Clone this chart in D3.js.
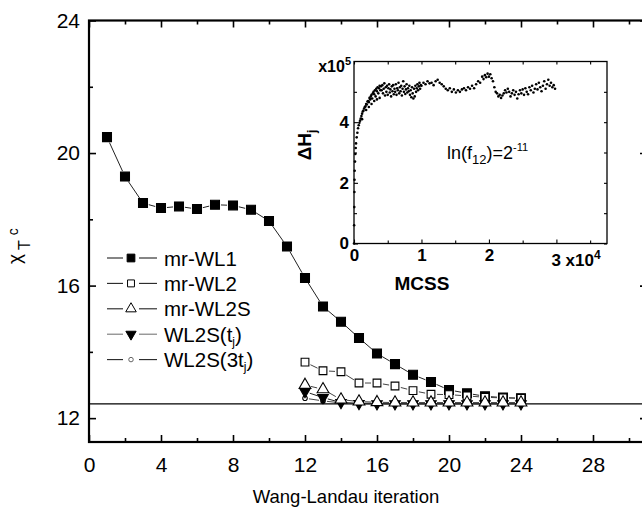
<!DOCTYPE html>
<html><head><meta charset="utf-8">
<script src="https://cdn.jsdelivr.net/npm/d3@7"></script>
<style>
body{margin:0;background:#fff}
svg text{font-family:"Liberation Sans",Arial,Helvetica,sans-serif;fill:#000}
</style>
</head><body>
<svg id="chart" width="642" height="515"></svg>
<script>
// ---- main panel data: susceptibility peak vs Wang-Landau iteration ----
const iterWL1 = [1,2,3,4,5,6,7,8,9,10,11,12,13,14,15,16,17,18,19,20,21,22,23,24];
const chiWL1  = [20.48,19.29,18.49,18.34,18.39,18.31,18.44,18.42,18.29,17.95,17.18,16.23,15.37,14.91,14.42,13.95,13.63,13.31,13.09,12.85,12.75,12.66,12.62,12.60];
const iterLate = [12,13,14,15,16,17,18,19,20,21,22,23,24];
const chiWL2   = [13.69,13.43,13.40,13.06,13.06,12.97,12.83,12.72,12.71,12.67,12.63,12.61,12.60];
const chiWL2S  = [13.00,12.87,12.56,12.50,12.48,12.47,12.47,12.47,12.47,12.47,12.47,12.47,12.47];
const chiWL2St = [12.80,12.62,12.47,12.44,12.43,12.43,12.43,12.43,12.43,12.43,12.43,12.43,12.43];
const chiWL2S3t= [12.60,12.52,12.46,12.45,12.45,12.44,12.44,12.44,12.44,12.44,12.44,12.44,12.44];
const exactChi = 12.43;

const seriesNames = ["mr-WL1","mr-WL2","mr-WL2S","WL2S(t","WL2S(3t"];

const xTicksMajor = [0,4,8,12,16,20,24,28];
const xTicksMinor = [2,6,10,14,18,22,26,30];
const yTicksMajor = [12,16,20,24];
const yTicksMinor = [14,18,22];

// ---- inset data: histogram spread vs Monte Carlo sweeps (x10^4, x10^5) ----
const mcss = [
0,0.002,0.004,0.006,0.008,0.010,0.015,0.020,0.025,0.030,0.040,0.050,0.060,0.070,0.080,0.090,0.100,0.110,0.120,0.130,0.140,0.150,0.160,0.170,0.180,0.190,0.200,0.210,0.220,0.230,0.240,0.250,0.260,0.270,0.280,0.290,0.300,0.310,0.320,0.330,0.340,0.350,0.360,0.370,0.380,0.390,0.400,
0.12,0.18,0.22,0.26,0.30,0.34,0.38,
0.41,0.42,0.43,0.44,0.45,0.46,0.47,0.48,0.49,0.50,0.51,0.52,0.53,0.54,0.55,0.56,0.57,0.58,0.59,0.60,0.61,0.62,0.63,0.64,0.65,0.66,0.67,0.68,0.69,0.70,0.71,0.72,0.73,0.74,0.75,0.76,0.77,0.78,0.79,0.80,0.81,0.82,0.83,0.84,0.85,0.86,0.87,0.88,0.89,0.90,0.91,0.92,0.93,0.94,0.95,0.96,0.97,0.98,0.99,
1.00,1.03,1.06,1.09,1.12,1.15,1.18,1.21,1.24,1.27,1.30,1.33,1.36,1.39,1.42,1.45,1.48,1.51,1.54,1.57,1.60,1.63,1.66,1.69,1.72,1.75,1.78,1.81,1.84,1.87,1.90,1.92,1.94,1.96,1.98,2.00,2.02,2.04,2.06,2.08,2.10,2.12,2.14,2.16,2.18,2.20,2.22,2.24,2.26,2.28,2.30,2.32,2.34,2.36,2.38,2.40,2.42,2.44,2.46,2.48,2.50,2.52,2.54,2.56,2.58,2.60,2.62,2.64,2.66,2.68,2.70,2.72,2.74,2.76,2.78,2.80,2.82,2.84,2.86,2.88,2.90,2.92,2.94,2.96,2.98
];
const deltaH = [
0.0,0.6,1.2,1.7,2.1,2.4,2.7,2.95,3.15,3.3,3.5,3.65,3.8,3.9,3.98,4.05,4.12,4.2,4.28,4.35,4.38,4.45,4.5,4.52,4.6,4.58,4.68,4.7,4.66,4.8,4.75,4.85,4.9,4.78,4.95,5.0,4.92,5.05,4.85,5.1,5.02,5.15,4.95,5.12,5.2,5.05,5.18,
4.1,4.4,4.5,4.6,4.7,4.75,4.8,
5.05,5.22,4.95,5.1,5.28,4.88,5.15,5.0,5.2,4.9,5.12,5.25,4.98,5.08,4.85,5.18,5.02,5.22,4.92,5.1,5.0,5.25,4.9,5.12,5.05,5.3,4.95,5.15,5.02,5.2,4.88,5.1,5.35,5.0,5.18,4.93,5.08,5.25,4.98,5.12,5.02,5.2,4.9,5.05,4.82,5.15,4.95,4.78,5.1,4.85,5.2,5.0,5.12,5.25,5.05,5.18,5.3,5.1,5.22,
5.2,5.3,5.25,5.35,5.28,5.3,5.22,5.35,5.4,5.3,5.25,5.18,5.1,5.05,5.12,5.0,5.08,4.98,5.05,5.0,5.08,5.12,5.05,5.15,5.1,5.2,5.12,5.25,5.35,5.3,5.5,5.42,5.55,5.48,5.6,5.5,5.58,5.45,5.35,5.15,5.0,4.95,4.85,4.9,4.8,4.88,4.95,5.05,4.98,5.1,5.0,4.85,4.95,5.05,4.9,5.0,4.78,4.92,5.05,4.95,5.08,4.9,5.12,5.0,4.92,5.15,5.05,5.2,4.98,5.1,5.25,5.08,5.3,5.15,5.02,5.2,5.35,5.1,5.25,5.4,5.2,5.3,5.15,5.22,5.1
];
const insetXTicks = [0,1,2,3];
const insetXMinor = [0.5,1.5,2.5,3.5];
const insetYTicks = [0,2,4];
const insetYMinor = [1,3,5];

const svg = d3.select("#chart");

// ---- main scales ----
const x = d3.scaleLinear().domain([0, 31]).range([89, 647]);
const y = d3.scaleLinear().domain([11.28, 24]).range([442, 20.5]);
const L = 89, R = 647, T = 20.5, B = 442;

// inward tick helper
function ticks(g, axisGen){ g.call(axisGen); g.select(".domain").remove(); g.selectAll("line").attr("stroke","#000").attr("stroke-width",1.6); }

const gAx = svg.append("g");
ticks(gAx.append("g").attr("transform",`translate(0,${B})`),
  d3.axisBottom(x).tickValues(xTicksMajor).tickSizeInner(-7).tickSizeOuter(0).tickPadding(15));
ticks(gAx.append("g").attr("transform",`translate(0,${B})`),
  d3.axisBottom(x).tickValues(xTicksMinor).tickSizeInner(-4).tickSizeOuter(0).tickFormat(""));
ticks(gAx.append("g").attr("transform",`translate(0,${T})`),
  d3.axisTop(x).tickValues(xTicksMajor).tickSizeInner(-7).tickSizeOuter(0).tickFormat(""));
ticks(gAx.append("g").attr("transform",`translate(0,${T})`),
  d3.axisTop(x).tickValues(xTicksMinor).tickSizeInner(-4).tickSizeOuter(0).tickFormat(""));
ticks(gAx.append("g").attr("transform",`translate(${L},0)`),
  d3.axisLeft(y).tickValues(yTicksMajor).tickSizeInner(-7).tickSizeOuter(0).tickPadding(9));
ticks(gAx.append("g").attr("transform",`translate(${L},0)`),
  d3.axisLeft(y).tickValues(yTicksMinor).tickSizeInner(-4).tickSizeOuter(0).tickFormat(""));
ticks(gAx.append("g").attr("transform",`translate(${R},0)`),
  d3.axisRight(y).tickValues(yTicksMajor).tickSizeInner(-7).tickSizeOuter(0).tickFormat(""));
ticks(gAx.append("g").attr("transform",`translate(${R},0)`),
  d3.axisRight(y).tickValues(yTicksMinor).tickSizeInner(-4).tickSizeOuter(0).tickFormat(""));
gAx.selectAll("text").style("font-size","21px").attr("fill","#000");

svg.append("rect").attr("x",L).attr("y",T).attr("width",R-L).attr("height",B-T)
  .attr("fill","none").attr("stroke","#000").attr("stroke-width",2.2);

// reference line
svg.append("line").attr("x1",L).attr("x2",R).attr("y1",y(exactChi)).attr("y2",y(exactChi))
  .attr("stroke","#000").attr("stroke-width",1.1);

// axis titles
svg.append("text").attr("x",346).attr("y",503).attr("text-anchor","middle")
  .style("font-size","18.5px").text("Wang-Landau iteration");
const yl = svg.append("text").attr("transform","translate(21,264) rotate(-90)")
  .attr("text-anchor","start").style("font-size","19px");
yl.append("tspan").text("χ");
yl.append("tspan").attr("dx",4).attr("dy",9).style("font-size","16px").text("T");
yl.append("tspan").attr("dx",5).attr("dy",-12).style("font-size","14px").text("c");

// ---- marker shapes ----
const mk = {
  fsq: {sym:d3.symbolSquare, size:80, fill:"#000", stroke:"#000", gap:6},
  osq: {sym:d3.symbolSquare, size:60, fill:"#fff", stroke:"#000", gap:6},
  otri:{sym:d3.symbolTriangle, size:60, fill:"#fff", stroke:"#000", gap:6, rot:0},
  ftri:{sym:d3.symbolTriangle, size:48, fill:"#000", stroke:"#000", gap:5, rot:180},
  ocir:{sym:d3.symbolCircle, size:16, fill:"#fff", stroke:"#000", gap:4}
};
function markerPath(m){ return d3.symbol().type(m.sym).size(m.size)(); }

function drawSeries(xs, ys, m, lineColor){
  const pts = xs.map((d,i)=>[x(d), y(ys[i])]);
  const segs = d3.pairs(pts).map(([p,q])=>{
    const dx=q[0]-p[0], dy=q[1]-p[1], len=Math.hypot(dx,dy);
    if(len < 2*m.gap+1) return null;
    const ux=dx/len, uy=dy/len;
    return [p[0]+ux*m.gap, p[1]+uy*m.gap, q[0]-ux*m.gap, q[1]-uy*m.gap];
  }).filter(Boolean);
  const g = svg.append("g");
  g.selectAll("line").data(segs).join("line")
    .attr("x1",d=>d[0]).attr("y1",d=>d[1]).attr("x2",d=>d[2]).attr("y2",d=>d[3])
    .attr("stroke",lineColor).attr("stroke-width",1);
  g.selectAll("path").data(pts).join("path")
    .attr("d",markerPath(m))
    .attr("transform",d=>`translate(${d[0]},${d[1]})${m.rot?` rotate(${m.rot})`:""}`)
    .attr("fill",m.fill).attr("stroke",m.stroke).attr("stroke-width",1.1);
}

drawSeries(iterWL1, chiWL1, mk.fsq, "#222");
drawSeries(iterLate, chiWL2, mk.osq, "#444");
drawSeries(iterLate, chiWL2S3t, mk.ocir, "#444");
drawSeries(iterLate, chiWL2St, mk.ftri, "#222");
drawSeries(iterLate, chiWL2S, mk.otri, "#444");

// ---- legend ----
const legMarks = [mk.fsq, mk.osq, mk.otri, mk.ftri, mk.ocir];
const legScale = [0.75,0.8,0.8,0.95,1];
const lg = svg.append("g");
seriesNames.forEach((name,i)=>{
  const cy = 258 + i*25.4;
  const m = legMarks[i];
  const col = i===3 ? "#777" : "#222";
  lg.append("line").attr("x1",107).attr("x2",123).attr("y1",cy).attr("y2",cy).attr("stroke",col).attr("stroke-width",1.1);
  lg.append("line").attr("x1",139).attr("x2",157).attr("y1",cy).attr("y2",cy).attr("stroke",col).attr("stroke-width",1.1);
  lg.append("path").attr("d",d3.symbol().type(m.sym).size(m.size*legScale[i])())
    .attr("transform",`translate(131,${cy})${m.rot?` rotate(${m.rot})`:""}`)
    .attr("fill",m.fill).attr("stroke",i===4?"#666":m.stroke).attr("stroke-width",1);
  const t = lg.append("text").attr("x",164).attr("y",cy+7.5).style("font-size","20.5px").text(name);
  if(i>=3){
    t.append("tspan").attr("dy",4).style("font-size","12px").text("j");
    t.append("tspan").attr("dy",-4).text(")");
  }
});

// ---- inset ----
const ix = d3.scaleLinear().domain([0, 3.75]).range([354, 607]);
const iy = d3.scaleLinear().domain([0, 6]).range([243.5, 61.5]);
const IL=354, IR=607, IT=61.5, IB=243.5;
svg.append("rect").attr("x",IL).attr("y",IT).attr("width",IR-IL).attr("height",IB-IT)
  .attr("fill","#fff").attr("stroke","#000").attr("stroke-width",1.3);

const gi = svg.append("g");
function iticks(g, a){ g.call(a); g.select(".domain").remove(); g.selectAll("line").attr("stroke","#000").attr("stroke-width",1.1); }
iticks(gi.append("g").attr("transform",`translate(0,${IB})`),
  d3.axisBottom(ix).tickValues(insetXTicks).tickSizeInner(-4).tickSizeOuter(0).tickPadding(5).tickFormat(d=>d===3?"":d3.format("d")(d)));
iticks(gi.append("g").attr("transform",`translate(0,${IB})`),
  d3.axisBottom(ix).tickValues(insetXMinor).tickSizeInner(-3).tickSizeOuter(0).tickFormat(""));
iticks(gi.append("g").attr("transform",`translate(0,${IT})`),
  d3.axisTop(ix).tickValues(insetXTicks.concat(insetXMinor)).tickSizeInner(-3).tickSizeOuter(0).tickFormat(""));
iticks(gi.append("g").attr("transform",`translate(${IL},0)`),
  d3.axisLeft(iy).tickValues(insetYTicks).tickSizeInner(-4).tickSizeOuter(0).tickPadding(5).tickFormat(d3.format("d")));
iticks(gi.append("g").attr("transform",`translate(${IL},0)`),
  d3.axisLeft(iy).tickValues(insetYMinor).tickSizeInner(-3).tickSizeOuter(0).tickFormat(""));
iticks(gi.append("g").attr("transform",`translate(${IR},0)`),
  d3.axisRight(iy).tickValues(insetYTicks.concat(insetYMinor)).tickSizeInner(-3).tickSizeOuter(0).tickFormat(""));
gi.selectAll("text").style("font-size","17px").style("font-weight","bold").attr("fill","#000");

// "3 x10^4" and "x10^5" multipliers
const xm = svg.append("text").attr("x",ix(3)).attr("y",IB+22).attr("text-anchor","start")
  .attr("dx",-5).style("font-size","17px").style("font-weight","bold");
xm.append("tspan").text("3 x10");
xm.append("tspan").attr("dy",-7).style("font-size","12px").text("4");
const ym = svg.append("text").attr("x",IL-3).attr("y",iy(6)+10).attr("text-anchor","end")
  .style("font-size","16px").style("font-weight","bold");
ym.append("tspan").text("x10");
ym.append("tspan").attr("dy",-7).style("font-size","11px").text("5");

svg.append("text").attr("x",422).attr("y",290).attr("text-anchor","middle")
  .style("font-size","19px").style("font-weight","bold").text("MCSS");
const il = svg.append("text").attr("transform","translate(311,145) rotate(-90)")
  .attr("text-anchor","middle").style("font-size","19px").style("font-weight","bold");
il.append("tspan").text("ΔH");
il.append("tspan").attr("dy",5).style("font-size","12px").text("j");

const an = svg.append("text").attr("x",447).attr("y",159).style("font-size","18px");
an.append("tspan").text("ln(f");
an.append("tspan").attr("dy",5).style("font-size","13px").text("12");
an.append("tspan").attr("dy",-5).text(")=2");
an.append("tspan").attr("dy",-8).style("font-size","11px").text("-11");

svg.append("g").selectAll("circle").data(mcss.map((d,i)=>[d,deltaH[i]])).join("circle")
  .attr("cx",d=>ix(d[0])).attr("cy",d=>iy(d[1])).attr("r",1.3).attr("fill","#000");
</script>
</body></html>
